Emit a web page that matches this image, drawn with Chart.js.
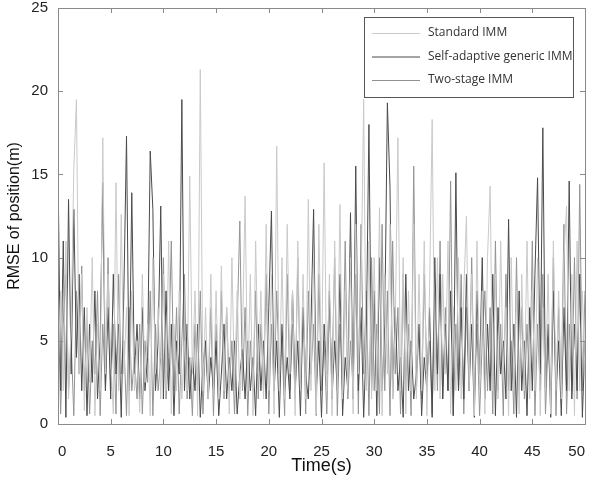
<!DOCTYPE html>
<html>
<head>
<meta charset="utf-8">
<script src="https://cdn.jsdelivr.net/npm/chart.js@4.4.1/dist/chart.umd.min.js"></script>
<style>
  html, body { margin: 0; padding: 0; background: #fff; }
  #wrap { width: 590px; height: 482px; }
</style>
</head>
<body>
<div id="wrap"><canvas id="rmseChart"></canvas></div>
<script>
// time axis: 0..50 s, one sample every 0.25 s
const timeStep = 0.25;
const xTicks = [0, 5, 10, 15, 20, 25, 30, 35, 40, 45, 50];
const yTicks = [0, 5, 10, 15, 20, 25];

const standardImm = [
  3, 8, 2, 11, 1.5, 6, 15.3, 19.5, 3, 9, 0.8, 7, 2.5, 10, 0.5, 6, 2, 17.2, 3, 9,
  4, 0.6, 14.5, 2, 12.6, 3, 7, 0.5, 8, 2, 5, 0.7, 9, 2.5, 6, 0.5, 10, 3, 7, 1.5,
  9, 2, 11, 0.6, 6, 2, 8, 1.5, 5, 2, 14.9, 3, 8, 0.5, 21.3, 2, 7, 1.5, 9, 2,
  8, 1.5, 9.5, 2, 7, 0.6, 10, 2, 8, 1.5, 5, 13.7, 2, 9, 0.5, 11, 3, 8, 1.5, 12,
  2, 9, 0.6, 16.7, 2, 10, 1.5, 12, 3, 8, 0.5, 11, 2, 9, 1.5, 13.5, 2, 10, 0.6, 12,
  3, 15.7, 2, 9, 0.5, 11, 2, 13.2, 1.5, 8, 2, 10, 0.6, 12, 3, 8, 19.5, 2, 11, 1.5,
  10, 2, 13, 0.5, 9, 3, 12, 1.5, 6, 17.2, 2, 10, 0.6, 8, 2, 12, 1.5, 9, 2, 11,
  0.5, 8, 18.3, 2, 10, 1.5, 9, 3, 11, 0.6, 7, 2, 10, 1.5, 8, 12.5, 2, 9, 0.5, 11,
  2, 8, 0.6, 10, 14.3, 2, 9, 1.5, 11, 3, 7, 0.5, 10, 2, 8, 0.6, 9, 2, 11, 1.5,
  8, 2, 10, 0.5, 7, 2, 9, 0.6, 11, 2, 8, 1.5, 10, 13.1, 2, 9, 0.5, 11, 2, 8,
  3
];

const selfAdaptiveImm = [
  15.5, 2, 11, 0.4, 13.5, 3, 12.9, 4, 9, 2, 7, 0.5, 6, 2.5, 8, 1.5, 5, 14.5, 2, 7,
  1.5, 9, 3, 6, 0.4, 8, 17.3, 2, 13.9, 3, 6, 1.5, 7, 2, 4, 16.4, 12.9, 2, 5, 13.1,
  1.5, 8, 2, 6, 0.5, 5, 3, 19.5, 2, 6, 1.5, 4, 2, 6, 0.4, 3.5, 5, 1.5, 4, 2,
  5, 0.5, 3, 6, 1.5, 4, 2, 5, 0.6, 3, 4.5, 1.5, 5, 2, 4, 0.5, 6, 2, 5, 1.5,
  7, 12.8, 2, 5, 0.4, 6, 2, 4, 1.5, 8, 2, 5, 0.5, 7, 3, 1.5, 6, 12.9, 2, 5,
  0.4, 6, 3, 8, 1.5, 5, 2, 9, 0.5, 4, 2, 12.7, 1.5, 15.5, 2, 7, 0.4, 5, 18, 2,
  8, 0.5, 10, 2, 6, 19.3, 14.2, 1.5, 7, 2, 4, 0.4, 9, 2, 5, 1.5, 3, 6, 0.5, 4,
  2, 7, 0.4, 10, 3, 9, 1.5, 6, 2, 8, 0.5, 15.1, 2, 7, 1.5, 9, 2, 6, 0.4, 8,
  3, 10, 1.5, 6, 2, 9, 0.5, 7, 3, 5, 1.5, 12.3, 2, 6, 0.4, 8, 2, 5, 0.5, 7,
  2, 9, 14.8, 3, 17.8, 2, 6, 0.4, 8, 2, 5, 0.5, 7, 2, 14.6, 1.5, 6, 2, 9, 0.4,
  5
];

const twoStageImm = [
  8, 0.6, 6, 9, 2, 5, 0.5, 8, 3, 9.5, 2, 6, 0.6, 5, 3, 8, 0.5, 6, 2, 10,
  2, 6, 0.6, 9, 3, 5, 0.5, 7, 2, 4, 1.5, 6, 0.6, 5, 2.5, 8, 0.5, 6, 2, 4,
  10, 1.5, 4, 11, 2, 7, 0.6, 5, 9, 1.5, 4, 0.5, 6, 2, 8, 0.6, 5, 2, 7, 0.5,
  6, 2, 8, 1.5, 7, 2, 5, 0.6, 6, 12.2, 2, 7, 0.5, 5, 2, 8, 1.5, 6, 2, 9,
  0.6, 6, 2, 8, 3, 5, 0.5, 9, 2, 6, 1.5, 10, 2, 7, 0.6, 8, 3, 6, 0.5, 9,
  2, 5, 0.6, 7, 3, 10, 0.5, 6, 2, 11, 1.5, 5, 2, 9, 0.6, 12, 3, 8, 0.5, 10,
  2, 6, 0.6, 12, 2, 8, 0.5, 11, 3, 7, 0.6, 9, 2, 6, 0.5, 15.5, 2, 6, 1.5, 9,
  3, 5, 0.6, 8, 2, 11, 1.5, 7, 2, 14.6, 0.5, 6, 2, 9, 0.6, 7, 2, 10, 1.5, 6,
  0.5, 5, 8, 2, 7, 0.6, 11, 2, 6, 0.5, 9, 2, 5, 0.6, 10, 2, 7, 1.5, 6, 2,
  11, 0.5, 6, 2, 9, 0.6, 5, 2, 10, 0.5, 7, 2, 12, 0.6, 6, 2, 10, 1.5, 14.4, 2,
  8
];

const seriesNames = ["Standard IMM", "Self-adaptive generic IMM", "Two-stage IMM"];
const seriesColors = ["#c9c9c9", "#4a4a4a", "#939393"];

function toPoints(values) {
  return values.map((v, i) => ({ x: i * timeStep, y: v }));
}

// box, inward ticks on all four sides, legend drawn inside the plot
const matlabFrame = {
  id: "matlabFrame",
  afterDraw(chart) {
    const { ctx, chartArea: a, scales } = chart;
    ctx.save();
    ctx.strokeStyle = "#8a8a8a";
    ctx.lineWidth = 1;
    ctx.strokeRect(a.left + 0.5, a.top + 0.5, a.right - a.left, a.bottom - a.top);
    ctx.beginPath();
    xTicks.forEach(t => {
      const px = Math.round(scales.x.getPixelForValue(t)) + 0.5;
      ctx.moveTo(px, a.bottom); ctx.lineTo(px, a.bottom - 5);
      ctx.moveTo(px, a.top); ctx.lineTo(px, a.top + 5);
    });
    yTicks.forEach(t => {
      const py = Math.round(scales.y.getPixelForValue(t)) + 0.5;
      ctx.moveTo(a.left, py); ctx.lineTo(a.left + 5, py);
      ctx.moveTo(a.right, py); ctx.lineTo(a.right - 5, py);
    });
    ctx.stroke();

    // legend
    const bx = 364.5, by = 17.5, bw = 209, bh = 80;
    ctx.fillStyle = "#fff";
    ctx.fillRect(bx, by, bw, bh);
    ctx.strokeStyle = "#555";
    ctx.strokeRect(bx, by, bw, bh);
    ctx.font = "12px 'Open Sans', sans-serif";
    ctx.textBaseline = "middle";
    chart.data.datasets.forEach((ds, i) => {
      const y = 33 + i * 23.5;
      ctx.strokeStyle = ds.borderColor;
      ctx.beginPath();
      ctx.moveTo(372, y + 0.5); ctx.lineTo(420, y + 0.5);
      ctx.stroke();
      ctx.fillStyle = "#333";
      ctx.fillText(ds.label, 428, y);
    });
    ctx.restore();
  }
};

new Chart(document.getElementById("rmseChart"), {
  type: "line",
  data: {
    datasets: [standardImm, selfAdaptiveImm, twoStageImm].map((vals, i) => ({
      label: seriesNames[i],
      data: toPoints(vals),
      borderColor: seriesColors[i],
      borderWidth: 1,
      pointRadius: 0,
      tension: 0,
      fill: false
    }))
  },
  options: {
    responsive: true,
    maintainAspectRatio: false,
    animation: false,
    layout: { padding: { top: 8, right: 5, left: 0, bottom: 0 } },
    plugins: { legend: { display: false }, tooltip: { enabled: false } },
    scales: {
      x: {
        type: "linear",
        min: 0,
        max: 50,
        afterBuildTicks: s => { s.ticks = xTicks.map(v => ({ value: v })); },
        afterFit: s => { s.height = 58; s.paddingLeft = 0; s.paddingRight = 0; },
        grid: { display: false, drawTicks: false },
        border: { display: false },
        ticks: { color: "#222", padding: 19, maxRotation: 0, align: "inner", font: { family: "'Liberation Sans', Arial", size: 15 } },
        title: { display: true, text: "Time(s)", color: "#111", padding: { top: 0, bottom: 5 }, font: { family: "'Liberation Sans', Arial", size: 18 } }
      },
      y: {
        min: 0,
        max: 25,
        afterBuildTicks: s => { s.ticks = yTicks.map(v => ({ value: v })); },
        afterFit: s => { s.width = 58; s.paddingTop = 0; s.paddingBottom = 0; },
        grid: { display: false, drawTicks: false },
        border: { display: false },
        ticks: { color: "#222", padding: 10, font: { family: "'Liberation Sans', Arial", size: 15 } },
        title: { display: true, text: "RMSE of position(m)", color: "#111", padding: { top: 5, bottom: 0 }, font: { family: "'Liberation Sans', Arial", size: 16 } }
      }
    }
  },
  plugins: [matlabFrame]
});
</script>
</body>
</html>
